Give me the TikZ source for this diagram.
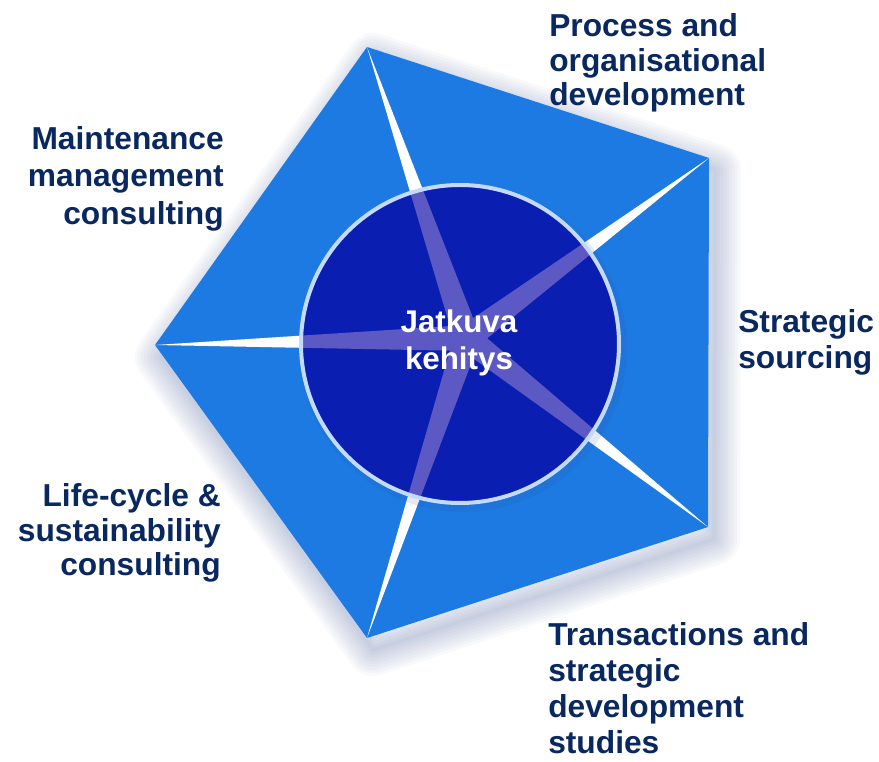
\documentclass[tikz,border=0pt]{standalone}
\usepackage{fontspec}
\setmainfont{Liberation Sans}
\usetikzlibrary{calc}
\definecolor{pentblue}{RGB}{28,122,226}
\definecolor{discblue}{RGB}{10,30,178}
\definecolor{raypurple}{RGB}{92,88,196}
\definecolor{ringcol}{RGB}{196,218,250}
\definecolor{navy}{RGB}{10,40,96}
\definecolor{shadowcol}{RGB}{50,80,150}
\begin{document}
\begin{tikzpicture}[x=0.75pt,y=-0.75pt,
  lbl/.style={text=navy, inner sep=0pt, font=\bfseries\fontsize{23.8}{#1}\selectfont},
  ctrtext/.style={text=white, inner sep=0pt, align=center, font=\bfseries\fontsize{23.5}{27.7}\selectfont},
  shadowline/.style={shadowcol, opacity=0.03, line join=round}]
\useasboundingbox[fill=white] (0,0) rectangle (879,762);
% pentagon vertices and star centre
\coordinate (T)  at (367,47);
\coordinate (RT) at (709,158);
\coordinate (RB) at (708,527);
\coordinate (B)  at (367,638);
\coordinate (L)  at (155,345);
\coordinate (S)  at (467,338);
\coordinate (C)  at (460,344);
% soft shadow
\foreach \w in {52,46,40,34,28,22,16,10,4} {
  \draw[shadowline, line width=\w*0.75pt]
    ([shift={(6,12)}]T) -- ([shift={(6,12)}]RT) -- ([shift={(6,12)}]RB) -- ([shift={(6,12)}]B) -- ([shift={(6,12)}]L) -- cycle;
}
% pentagon
\fill[pentblue] (T) -- (RT) -- (RB) -- (B) -- (L) -- cycle;
% white rays
\foreach \v in {T,RT,RB,B,L} {
  \fill[white] (\v) -- ($(S)!9.75pt!90:(\v)$) -- ($(S)!9.75pt!-90:(\v)$) -- cycle;
}
% disc shadow
\fill[shadowcol, opacity=0.12] ([shift={(3,4)}]C) circle[radius=164];
% disc
\node[circle, fill=discblue, minimum size=318*0.75pt, inner sep=0pt] (disc) at (C) {};
\begin{scope}
  \clip (C) circle[radius=159];
  \foreach \v in {T,RT,RB,B,L} {
    \fill[raypurple] (\v) -- ($(S)!9.75pt!90:(\v)$) -- ($(S)!9.75pt!-90:(\v)$) -- cycle;
  }
\end{scope}
\draw[ringcol, line width=3pt] (C) circle[radius=159];
% centre text
\node[ctrtext] (ctr) at (459,343) {Jatkuva\\kehitys};
% labels
\node[lbl=25.9, anchor=north west, align=left]  (proc)  at (549,13.6)  {Process and\\organisational\\development};
\node[lbl=27.9, anchor=north east, align=right] (maint) at (224,126.5) {Maintenance\\management\\consulting};
\node[lbl=27.0, anchor=north west, align=left]  (strat) at (738,309.6) {Strategic\\sourcing};
\node[lbl=25.7, anchor=north east, align=right] (life)  at (221,483.6) {Life-cycle \&\\sustainability\\consulting};
\node[lbl=27.0, anchor=north west, align=left]  (trans) at (548,622.6) {Transactions and\\strategic\\development\\studies};
\end{tikzpicture}
\end{document}
